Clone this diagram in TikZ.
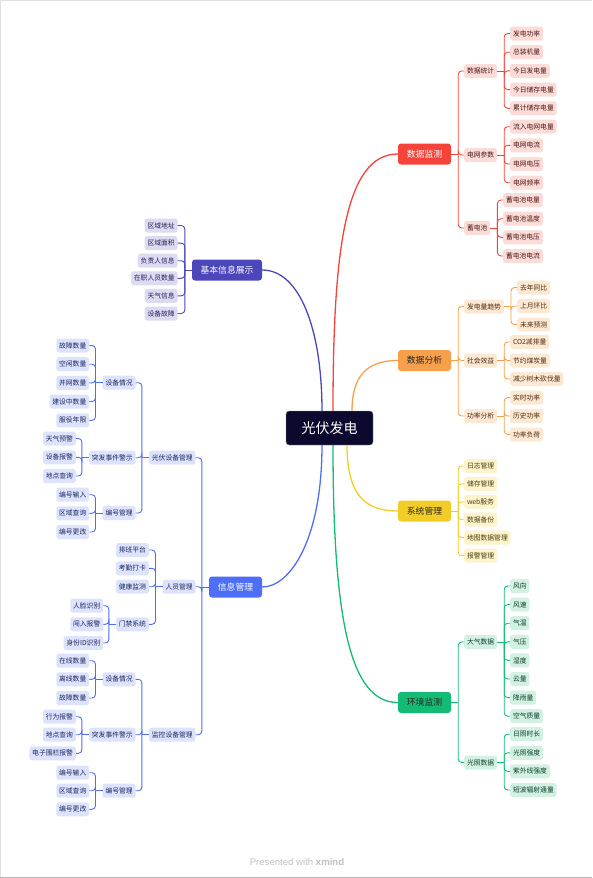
\documentclass[tikz,border=0pt]{standalone}
\usepackage{fontspec}
\newfontfamily\cjk{Noto Sans CJK SC}
\newfontfamily\footfont{Liberation Sans}
\definecolor{rootF}{HTML}{0B0A2E}
\definecolor{cR}{HTML}{F5433A}\definecolor{fR}{HTML}{FCDCD8}\definecolor{tR}{HTML}{4E1812}
\definecolor{cO}{HTML}{F7A04B}\definecolor{fO}{HTML}{FDE8D4}\definecolor{tO}{HTML}{4E2C0C}
\definecolor{cY}{HTML}{F3CD27}\definecolor{fY}{HTML}{FDF3CC}\definecolor{tY}{HTML}{4C3E0C}
\definecolor{cG}{HTML}{13BB74}\definecolor{fG}{HTML}{D2F1E3}\definecolor{tG}{HTML}{0C4028}
\definecolor{cP}{HTML}{4B46BA}\definecolor{fP}{HTML}{DCDBF2}\definecolor{tP}{HTML}{242058}
\definecolor{cB}{HTML}{4F6EF6}\definecolor{fB}{HTML}{DDE3FC}\definecolor{tB}{HTML}{1A2660}
\begin{document}
\begin{tikzpicture}[x=1pt,y=-1pt,
  lf/.style={font=\cjk\fontsize{6.8}{7}\selectfont, rounded corners=2.5pt, minimum height=14pt, inner xsep=2.8pt, inner ysep=1pt},
  mn/.style={font=\cjk\fontsize{8.8}{10}\selectfont, rounded corners=3pt, minimum height=21pt, minimum width=53pt, inner xsep=3pt},
  lfR/.style={lf, fill=fR, text=tR}, lfO/.style={lf, fill=fO, text=tO},
  lfY/.style={lf, fill=fY, text=tY}, lfG/.style={lf, fill=fG, text=tG},
  lfP/.style={lf, fill=fP, text=tP}, lfB/.style={lf, fill=fB, text=tB},
  lnR/.style={draw=cR, line width=0.9pt}, lnO/.style={draw=cO, line width=0.9pt},
  lnY/.style={draw=cY, line width=0.9pt}, lnG/.style={draw=cG, line width=0.9pt},
  lnP/.style={draw=cP, line width=0.9pt}, lnB/.style={draw=cB, line width=0.9pt},
  br/.style={rounded corners=3.5pt},
  curv/.style={line width=1.3pt}]
\useasboundingbox (0,0) rectangle (592,878);
\draw[black!12, line width=1pt] (592,0.5) -- (0.5,0.5) -- (0.5,877.5);
\draw[black!28, line width=1pt] (0,877.5) -- (592,877.5);

% root
\node[fill=rootF, draw=black!40, line width=0.4pt, rounded corners=3pt, minimum width=87pt, minimum height=34pt, text=white, font=\cjk\fontsize{14}{16}\selectfont] (root) at (329.5,428) {光伏发电};

% main branches
\node[mn, fill=cR, text=white] (mR) at (424.5,154) {数据监测};
\node[mn, fill=cO, text=black!85] (mO) at (424.5,360.5) {数据分析};
\node[mn, fill=cY, text=black!85] (mY) at (424.5,511) {系统管理};
\node[mn, fill=cG, text=black!85] (mG) at (424.5,702.5) {环境监测};
\node[mn, fill=cP, text=white, minimum width=70pt] (mP) at (227,270) {基本信息展示};
\node[mn, fill=cB, text=white] (mB) at (235.5,587) {信息管理};

% root curves
\coordinate (rR) at (333,411); \coordinate (rO) at (352,411); \coordinate (rP) at (322,411);
\coordinate (rB) at (322,445); \coordinate (rG) at (333,445); \coordinate (rY) at (347,445);
\draw[curv, cR] (rR) .. controls (333,250) and (345,154) .. (mR.west);
\draw[curv, cO] (rO) .. controls (352,378) and (365,360.5) .. (mO.west);
\draw[curv, cP] (rP) .. controls (322,330) and (300,270) .. (mP.east);
\draw[curv, cB] (rB) .. controls (322,540) and (290,587) .. (mB.east);
\draw[curv, cG] (rG) .. controls (333,620) and (350,702.5) .. (mG.west);
\draw[curv, cY] (rY) .. controls (347,495) and (365,511) .. (mY.west);

% ===== 数据监测 =====
\node[lfR, anchor=west] (sR1) at (464,71) {数据统计};
\node[lfR, anchor=west] (sR2) at (464,155) {电网参数};
\node[lfR, anchor=west] (sR3) at (464,228) {蓄电池};
\draw[lnR] (mR.east) -- ++(7,0) coordinate (jR);
\foreach \s in {sR1,sR2,sR3} \draw[lnR,br] (jR) |- (\s.west);
\foreach \t/\y [count=\i] in {发电功率/33.5, 总装机量/52.2, 今日发电量/70.9, 今日储存电量/89.6, 累计储存电量/108.3}
  \node[lfR, anchor=west] (aR1\i) at (510,\y) {\t};
\foreach \t/\y [count=\i] in {流入电网电量/126.7, 电网电流/145.3, 电网电压/164, 电网频率/182.7}
  \node[lfR, anchor=west] (aR2\i) at (510,\y) {\t};
\foreach \t/\y [count=\i] in {蓄电池电量/200, 蓄电池温度/218.7, 蓄电池电压/237.3, 蓄电池电流/256}
  \node[lfR, anchor=west] (aR3\i) at (503,\y) {\t};
\draw[lnR] (sR1.east) -- ++(7,0) coordinate (jR1);
\foreach \i in {1,...,5} \draw[lnR,br] (jR1) |- (aR1\i.west);
\draw[lnR] (sR2.east) -- ++(7,0) coordinate (jR2);
\foreach \i in {1,...,4} \draw[lnR,br] (jR2) |- (aR2\i.west);
\draw[lnR] (sR3.east) -- ++(7,0) coordinate (jR3);
\foreach \i in {1,...,4} \draw[lnR,br] (jR3) |- (aR3\i.west);

% ===== 数据分析 =====
\node[lfO, anchor=west] (sO1) at (464,306.5) {发电量趋势};
\node[lfO, anchor=west] (sO2) at (464,360.5) {社会效益};
\node[lfO, anchor=west] (sO3) at (464,416) {功率分析};
\draw[lnO] (mO.east) -- ++(7,0) coordinate (jO);
\foreach \s in {sO1,sO2,sO3} \draw[lnO,br] (jO) |- (\s.west);
\foreach \t/\y [count=\i] in {去年同比/287.5, 上月环比/306, 未来预测/324.5}
  \node[lfO, anchor=west] (aO1\i) at (517,\y) {\t};
\foreach \t/\y [count=\i] in {CO2减排量/342, 节约煤炭量/360.5, 减少树木砍伐量/379}
  \node[lfO, anchor=west] (aO2\i) at (510,\y) {\t};
\foreach \t/\y [count=\i] in {实时功率/397.5, 历史功率/416, 功率负荷/434.5}
  \node[lfO, anchor=west] (aO3\i) at (510,\y) {\t};
\draw[lnO] (sO1.east) -- ++(7,0) coordinate (jO1);
\foreach \i in {1,2,3} \draw[lnO,br] (jO1) |- (aO1\i.west);
\draw[lnO] (sO2.east) -- ++(7,0) coordinate (jO2);
\foreach \i in {1,2,3} \draw[lnO,br] (jO2) |- (aO2\i.west);
\draw[lnO] (sO3.east) -- ++(7,0) coordinate (jO3);
\foreach \i in {1,2,3} \draw[lnO,br] (jO3) |- (aO3\i.west);

% ===== 系统管理 =====
\foreach \t/\y [count=\i] in {日志管理/466, 储存管理/483.9, web服务/501.8, 数据备份/519.7, 地图数据管理/537.6, 报警管理/555.5}
  \node[lfY, anchor=west] (aY\i) at (464,\y) {\t};
\draw[lnY] (mY.east) -- ++(7,0) coordinate (jY);
\foreach \i in {1,...,6} \draw[lnY,br] (jY) |- (aY\i.west);

% ===== 环境监测 =====
\node[lfG, anchor=west] (sG1) at (464,642) {大气数据};
\node[lfG, anchor=west] (sG2) at (464,762.5) {光照数据};
\draw[lnG] (mG.east) -- ++(7,0) coordinate (jG);
\foreach \s in {sG1,sG2} \draw[lnG,br] (jG) |- (\s.west);
\foreach \t/\y [count=\i] in {风向/586, 风速/604.6, 气温/623.2, 气压/641.8, 湿度/660.4, 云量/679, 降雨量/697.6, 空气质量/716.2}
  \node[lfG, anchor=west] (aG1\i) at (510,\y) {\t};
\foreach \t/\y [count=\i] in {日照时长/734.2, 光照强度/752.8, 紫外线强度/771.4, 短波辐射通量/790}
  \node[lfG, anchor=west] (aG2\i) at (510,\y) {\t};
\draw[lnG] (sG1.east) -- ++(7,0) coordinate (jG1);
\foreach \i in {1,...,8} \draw[lnG,br] (jG1) |- (aG1\i.west);
\draw[lnG] (sG2.east) -- ++(7,0) coordinate (jG2);
\foreach \i in {1,...,4} \draw[lnG,br] (jG2) |- (aG2\i.west);

% ===== 基本信息展示 =====
\foreach \t/\y [count=\i] in {区域地址/225.5, 区域面积/243.1, 负责人信息/260.7, 在职人员数量/278.3, 天气信息/295.9, 设备故障/313.5}
  \node[lfP, anchor=east] (aP\i) at (177.7,\y) {\t};
\draw[lnP] (mP.west) -- ++(-7,0) coordinate (jP);
\foreach \i in {1,...,6} \draw[lnP,br] (jP) |- (aP\i.east);

% ===== 信息管理 =====
\node[lfB, anchor=east] (sB1) at (195.7,457.7) {光伏设备管理};
\node[lfB, anchor=east] (sB2) at (195.7,586.7) {人员管理};
\node[lfB, anchor=east] (sB3) at (195.7,734.7) {监控设备管理};
\draw[lnB] (mB.west) -- ++(-7,0) coordinate (jB);
\foreach \s in {sB1,sB2,sB3} \draw[lnB,br] (jB) |- (\s.east);

% 光伏设备管理
\node[lfB, anchor=east] (tB11) at (135.7,382.7) {设备情况};
\node[lfB, anchor=east] (tB12) at (135.7,457.7) {突发事件警示};
\node[lfB, anchor=east] (tB13) at (135.7,513) {编号管理};
\draw[lnB] (sB1.west) -- ++(-7,0) coordinate (jB1);
\foreach \s in {tB11,tB12,tB13} \draw[lnB,br] (jB1) |- (\s.east);
\foreach \t/\y [count=\i] in {故障数量/345.5, 空闲数量/364.2, 并网数量/382.9, 建设中数量/401.6, 服役年限/420.3}
  \node[lfB, anchor=east] (uB11\i) at (89.3,\y) {\t};
\foreach \t/\y [count=\i] in {天气预警/438.5, 设备报警/457.3, 地点查询/476}
  \node[lfB, anchor=east] (uB12\i) at (76,\y) {\t};
\foreach \t/\y [count=\i] in {编号输入/494.7, 区域查询/513.3, 编号更改/532}
  \node[lfB, anchor=east] (uB13\i) at (89.3,\y) {\t};
\draw[lnB] (tB11.west) -- ++(-7,0) coordinate (jB11);
\foreach \i in {1,...,5} \draw[lnB,br] (jB11) |- (uB11\i.east);
\draw[lnB] (tB12.west) -- ++(-7,0) coordinate (jB12);
\foreach \i in {1,2,3} \draw[lnB,br] (jB12) |- (uB12\i.east);
\draw[lnB] (tB13.west) -- ++(-7,0) coordinate (jB13);
\foreach \i in {1,2,3} \draw[lnB,br] (jB13) |- (uB13\i.east);

% 人员管理
\foreach \t/\y [count=\i] in {排班平台/550, 考勤打卡/568.3, 健康监测/586.7, 门禁系统/624.3}
  \node[lfB, anchor=east] (tB2\i) at (149,\y) {\t};
\draw[lnB] (sB2.west) -- ++(-7,0) coordinate (jB2);
\foreach \i in {1,...,4} \draw[lnB,br] (jB2) |- (tB2\i.east);
\foreach \t/\y [count=\i] in {人脸识别/605.7, 闯入报警/624.3, 身份ID识别/643}
  \node[lfB, anchor=east] (uB24\i) at (103.3,\y) {\t};
\draw[lnB] (tB24.west) -- ++(-7,0) coordinate (jB24);
\foreach \i in {1,2,3} \draw[lnB,br] (jB24) |- (uB24\i.east);

% 监控设备管理
\node[lfB, anchor=east] (tB31) at (135.7,679.3) {设备情况};
\node[lfB, anchor=east] (tB32) at (135.7,734.7) {突发事件警示};
\node[lfB, anchor=east] (tB33) at (135.7,790.7) {编号管理};
\draw[lnB] (sB3.west) -- ++(-7,0) coordinate (jB3);
\foreach \s in {tB31,tB32,tB33} \draw[lnB,br] (jB3) |- (\s.east);
\foreach \t/\y [count=\i] in {在线数量/660.7, 离线数量/679.3, 故障数量/698}
  \node[lfB, anchor=east] (uB31\i) at (89.3,\y) {\t};
\foreach \t/\y [count=\i] in {行为报警/716.7, 地点查询/734.7, 电子围栏报警/753.3}
  \node[lfB, anchor=east] (uB32\i) at (76,\y) {\t};
\foreach \t/\y [count=\i] in {编号输入/772.7, 区域查询/790.7, 编号更改/809.3}
  \node[lfB, anchor=east] (uB33\i) at (89.3,\y) {\t};
\draw[lnB] (tB31.west) -- ++(-7,0) coordinate (jB31);
\foreach \i in {1,2,3} \draw[lnB,br] (jB31) |- (uB31\i.east);
\draw[lnB] (tB32.west) -- ++(-7,0) coordinate (jB32);
\foreach \i in {1,2,3} \draw[lnB,br] (jB32) |- (uB32\i.east);
\draw[lnB] (tB33.west) -- ++(-7,0) coordinate (jB33);
\foreach \i in {1,2,3} \draw[lnB,br] (jB33) |- (uB33\i.east);

% footer
\node[text=black!25, font=\footfont\fontsize{9.6}{11}\selectfont] (foot) at (297,862) {Presented with \textbf{xmind}};
\end{tikzpicture}
\end{document}
